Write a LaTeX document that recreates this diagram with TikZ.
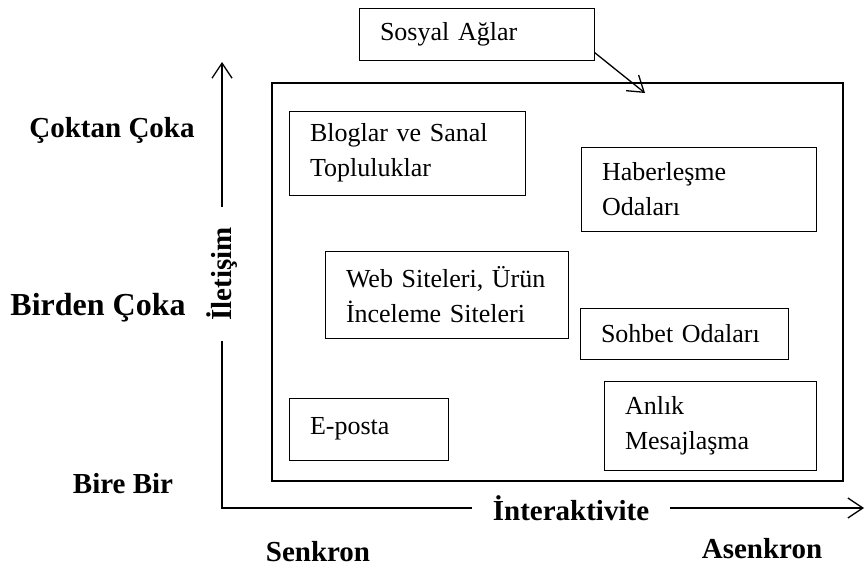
\documentclass[tikz,border=0pt]{standalone}
\usepackage{fontspec}
\setmainfont{Liberation Serif}
\usetikzlibrary{arrows.meta}

\tikzset{
    kutu/.style={draw,line width=1pt,inner xsep=21pt,inner ysep=0pt,align=left,font=\fontsize{26}{35}\selectfont},
    etiket/.style={font=\fontsize{29}{35}\selectfont\bfseries},
    eksen/.style={etiket,inner xsep=20pt}
}

\begin{document}
\begin{tikzpicture}[x=1pt,y=-1pt,line width=1.3pt,>={Straight Barb[length=15pt,width=20pt]}]
        \useasboundingbox (0,0) rectangle (865,570);

        \node (sosyal)    at (476.5,34)    [kutu,text width=193pt,minimum height=52pt] {Sosyal Ağlar};
        \node (cerceve)   at (557.5,282)   [draw,line width=2.6pt,minimum width=571pt,minimum height=398pt] {};

        \node (bloglar)   at (407,153)     [kutu,text width=194pt,minimum height=84pt] {Bloglar ve Sanal\\Topluluklar};
        \node (haber)     at (698.5,189)   [kutu,text width=193pt,minimum height=84pt] {Haberleşme\\Odaları};
        \node (web)       at (446.5,294.5) [kutu,text width=201pt,minimum height=87pt] {Web Siteleri, Ürün\\İnceleme Siteleri};
        \node (sohbet)    at (684,333.5)   [kutu,text width=166pt,minimum height=51pt] {Sohbet Odaları};
        \node (eposta)    at (368.5,429)   [kutu,text width=117pt,minimum height=62pt] {E-posta};
        \node (anlik)     at (710,425.5)   [kutu,text width=170pt,minimum height=89pt] {Anlık\\Mesajlaşma};

        % Axis labels
        \node (coktan)    at (112,137) [etiket,anchor=base] {Çoktan Çoka};
        \node (birden)    at (98,315)  [etiket,anchor=base,font=\fontsize{32}{35}\selectfont\bfseries] {Birden Çoka};
        \node (birebir)   at (123,493) [etiket,anchor=base] {Bire Bir};
        \node (senkron)   at (318,561) [etiket,anchor=base] {Senkron};
        \node (asenkron)  at (762,558) [etiket,anchor=base] {Asenkron};

        % Axes
        \coordinate (orijin) at (222,508);
        \coordinate (yust)   at (222,62);
        \coordinate (xuc)    at (864,508);
        \node (iletisim)      at (222,274) [eksen,rotate=90] {İletişim};
        \node (interaktivite) at (571,508) [eksen] {İnteraktivite};
        \draw (iletisim) -- (orijin) -- (interaktivite);
        \draw[->] (iletisim) -- (yust);
        \draw[->] (interaktivite) -- (xuc);

        % Arrow into the frame
        \coordinate (cerceveok) at (645,93);
        \draw[->] ([yshift=8pt]sosyal.south east) -- (cerceveok);
    \end{tikzpicture}
\end{document}
